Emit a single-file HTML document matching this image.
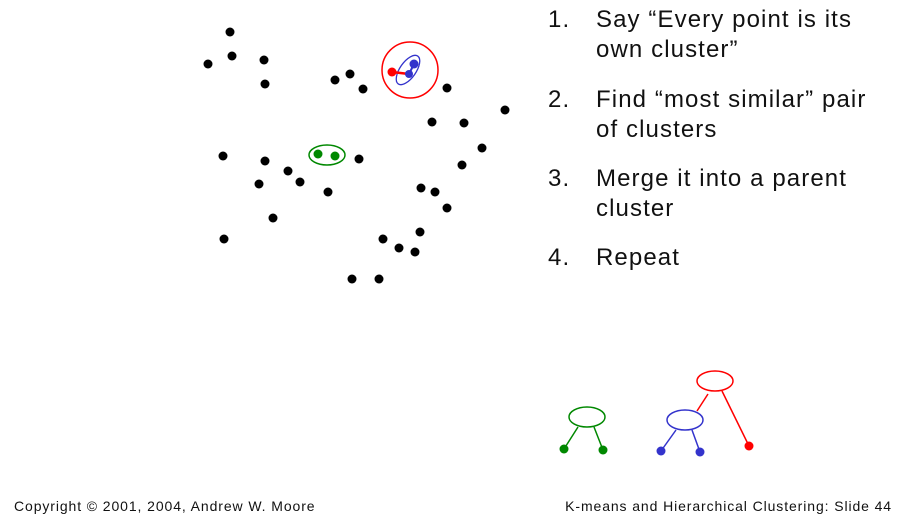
<!DOCTYPE html>
<html><head><meta charset="utf-8"><style>
body{margin:0;width:900px;height:523px;background:#fff;overflow:hidden;position:relative;font-family:"Liberation Sans",sans-serif}
.t{position:absolute;font-size:24px;color:#111;line-height:30px;letter-spacing:1.1px;white-space:nowrap}
.n{position:absolute;left:548px}
.f{position:absolute;font-size:14px;color:#111;top:498px;letter-spacing:0.9px;white-space:nowrap}
</style></head><body>
<svg width="900" height="523" style="position:absolute;left:0;top:0">
<g fill="#000">
<circle cx="230" cy="32" r="4.5"/><circle cx="208" cy="64" r="4.5"/><circle cx="232" cy="56" r="4.5"/><circle cx="264" cy="60" r="4.5"/><circle cx="265" cy="84" r="4.5"/><circle cx="335" cy="80" r="4.5"/><circle cx="350" cy="74" r="4.5"/><circle cx="363" cy="89" r="4.5"/><circle cx="447" cy="88" r="4.5"/><circle cx="505" cy="110" r="4.5"/><circle cx="432" cy="122" r="4.5"/><circle cx="464" cy="123" r="4.5"/><circle cx="482" cy="148" r="4.5"/><circle cx="462" cy="165" r="4.5"/><circle cx="223" cy="156" r="4.5"/><circle cx="265" cy="161" r="4.5"/><circle cx="288" cy="171" r="4.5"/><circle cx="300" cy="182" r="4.5"/><circle cx="259" cy="184" r="4.5"/><circle cx="328" cy="192" r="4.5"/><circle cx="359" cy="159" r="4.5"/><circle cx="421" cy="188" r="4.5"/><circle cx="435" cy="192" r="4.5"/><circle cx="447" cy="208" r="4.5"/><circle cx="273" cy="218" r="4.5"/><circle cx="224" cy="239" r="4.5"/><circle cx="383" cy="239" r="4.5"/><circle cx="399" cy="248" r="4.5"/><circle cx="415" cy="252" r="4.5"/><circle cx="420" cy="232" r="4.5"/><circle cx="352" cy="279" r="4.5"/><circle cx="379" cy="279" r="4.5"/>
</g>
<ellipse cx="327" cy="155" rx="18" ry="10" fill="none" stroke="#080" stroke-width="1.5"/>
<circle cx="318" cy="154" r="4.5" fill="#080"/><circle cx="335" cy="156" r="4.5" fill="#080"/>
<circle cx="410" cy="70" r="28" fill="none" stroke="red" stroke-width="1.5"/>
<ellipse cx="408" cy="70" rx="8" ry="17" transform="rotate(35 408 70)" fill="none" stroke="#33c" stroke-width="1.3"/>
<line x1="392" y1="72" x2="409" y2="74" stroke="red" stroke-width="2.5"/>
<circle cx="392" cy="72" r="4.5" fill="red"/>
<line x1="414" y1="64" x2="409" y2="74" stroke="#33c" stroke-width="2"/>
<circle cx="414" cy="64" r="4.5" fill="#33c"/><circle cx="409" cy="74" r="4" fill="#33c"/>
<ellipse cx="587" cy="417" rx="18" ry="10" fill="none" stroke="#080" stroke-width="1.5"/>
<line x1="578" y1="427" x2="564" y2="449" stroke="#080" stroke-width="1.5"/><line x1="594" y1="427" x2="603" y2="450" stroke="#080" stroke-width="1.5"/>
<circle cx="564" cy="449" r="4.5" fill="#080"/><circle cx="603" cy="450" r="4.5" fill="#080"/>
<ellipse cx="685" cy="420" rx="18" ry="10" fill="none" stroke="#33c" stroke-width="1.5"/>
<line x1="676" y1="430" x2="661" y2="451" stroke="#33c" stroke-width="1.5"/><line x1="692" y1="430" x2="700" y2="452" stroke="#33c" stroke-width="1.5"/>
<circle cx="661" cy="451" r="4.5" fill="#33c"/><circle cx="700" cy="452" r="4.5" fill="#33c"/>
<ellipse cx="715" cy="381" rx="18" ry="10" fill="none" stroke="red" stroke-width="1.5"/>
<line x1="708" y1="394" x2="697" y2="411" stroke="red" stroke-width="1.5"/><line x1="722" y1="391" x2="749" y2="446" stroke="red" stroke-width="1.5"/>
<circle cx="749" cy="446" r="4.5" fill="red"/>
</svg>
<div class="t n" style="top:5px">1.</div><div class="t" style="left:596px;top:5px">Say “Every point is its<br>own cluster”</div>
<div class="t n" style="top:85px">2.</div><div class="t" style="left:596px;top:85px">Find “most similar” pair<br>of clusters</div>
<div class="t n" style="top:164px">3.</div><div class="t" style="left:596px;top:164px">Merge it into a parent<br>cluster</div>
<div class="t n" style="top:243px">4.</div><div class="t" style="left:596px;top:243px">Repeat</div>
<div class="f" style="left:14px">Copyright © 2001, 2004, Andrew W. Moore</div>
<div class="f" style="right:8px">K-means and Hierarchical Clustering: Slide 44</div>
</body></html>
